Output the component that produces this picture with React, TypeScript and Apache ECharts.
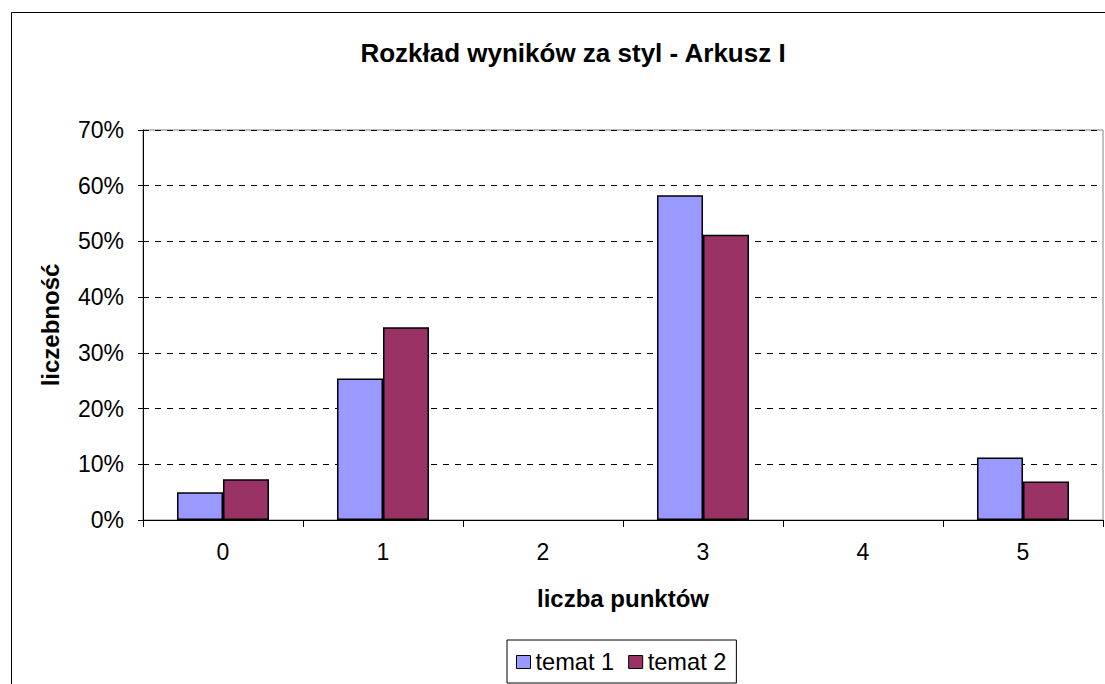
import React, { useEffect, useRef } from "react";
import * as echarts from "echarts";

const categories = ["0", "1", "2", "3", "4", "5"];
const temat1 = [5.0, 25.4, 0, 58.3, 0, 11.2];
const temat2 = [7.3, 34.6, 0, 51.2, 0, 6.9];
const seriesNames = ["temat 1", "temat 2"];
const seriesColors = ["#9999FF", "#993366"];

export default function App() {
  const ref = useRef<HTMLDivElement>(null);
  useEffect(() => {
    document.body.style.margin = "0";
    const chart = echarts.init(ref.current!, null, { renderer: "svg" });
    const font = "'Liberation Sans', Arial, sans-serif";
    const toData = (arr: number[]) =>
      arr.map((v) => (v === 0 ? { value: v, itemStyle: { borderWidth: 0, opacity: 0 } } : v));
    chart.setOption({
      animation: false,
      backgroundColor: "#ffffff",
      textStyle: { fontFamily: font },
      title: {
        text: "Rozkład wyników za styl - Arkusz I",
        left: 568,
        textAlign: "center",
        top: 35,
        textStyle: { fontFamily: font, fontSize: 26, fontWeight: "bold", color: "#000" },
      },
      graphic: [
        {
          type: "rect",
          shape: { x: 11.5, y: 12.5, width: 1200, height: 800 },
          style: { fill: "none", stroke: "#000", lineWidth: 1 },
          silent: true,
        },
      ],
      grid: {
        left: 143,
        right: 2,
        top: 130,
        bottom: 164,
        show: true,
        borderColor: "#808080",
        borderWidth: 1,
      },
      legend: {
        top: 640,
        left: 507,
        data: seriesNames,
        itemWidth: 14,
        itemHeight: 13,
        itemGap: 14,
        padding: [9, 10, 8, 9],
        borderColor: "#000",
        borderWidth: 1,
        icon: "rect",
        itemStyle: { borderColor: "#000", borderWidth: 1 },
        textStyle: { fontFamily: font, fontSize: 23.6, color: "#000", lineHeight: 26 },
      },
      xAxis: {
        type: "category",
        data: categories,
        name: "liczba punktów",
        nameLocation: "middle",
        nameGap: 66,
        nameTextStyle: { fontFamily: font, fontSize: 24, fontWeight: "bold", color: "#000" },
        axisLine: { lineStyle: { color: "#000", width: 1 } },
        axisTick: { show: true, length: 7, lineStyle: { color: "#000" } },
        axisLabel: { fontFamily: font, fontSize: 23, color: "#000", margin: 20 },
      },
      yAxis: {
        type: "value",
        min: 0,
        max: 70,
        interval: 10,
        name: "liczebność",
        nameLocation: "middle",
        nameRotate: 90,
        nameGap: 81,
        nameTextStyle: { fontFamily: font, fontSize: 24, fontWeight: "bold", color: "#000" },
        axisLine: { show: true, lineStyle: { color: "#000", width: 1 } },
        axisTick: { show: true, length: 5, lineStyle: { color: "#000" } },
        axisLabel: { fontFamily: font, fontSize: 23, color: "#000", margin: 19, formatter: "{value}%" },
        splitLine: { show: true, lineStyle: { color: "#000", type: [6, 6], width: 1 } },
      },
      series: [
        {
          name: seriesNames[0],
          type: "bar",
          data: toData(temat1),
          barWidth: 46,
          barGap: "0%",
          itemStyle: { color: seriesColors[0], borderColor: "#000", borderWidth: 1.5 },
        },
        {
          name: seriesNames[1],
          type: "bar",
          data: toData(temat2),
          barWidth: 46,
          barGap: "0%",
          itemStyle: { color: seriesColors[1], borderColor: "#000", borderWidth: 1.5 },
        },
      ],
    });
    return () => chart.dispose();
  }, []);
  return <div ref={ref} style={{ position: "absolute", left: 0, top: 0, width: 1105, height: 684 }} />;
}
